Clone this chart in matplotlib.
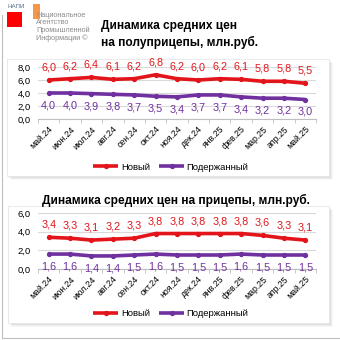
import matplotlib
matplotlib.use("Agg")
import matplotlib.pyplot as plt
from matplotlib.patches import Rectangle

plt.rcParams['font.family'] = ['Liberation Sans', 'DejaVu Sans']

# данные
months = ['май.24', 'июн.24', 'июл.24', 'авг.24', 'сен.24', 'окт.24', 'ноя.24',
          'дек.24', 'янв.25', 'фев.25', 'мар.25', 'апр.25', 'май.25']
semi_new = [6.0, 6.2, 6.4, 6.1, 6.2, 6.8, 6.2, 6.0, 6.2, 6.1, 5.8, 5.8, 5.5]
semi_used = [4.0, 4.0, 3.9, 3.8, 3.7, 3.5, 3.4, 3.7, 3.7, 3.4, 3.2, 3.2, 3.0]
trail_new = [3.4, 3.3, 3.1, 3.2, 3.3, 3.8, 3.8, 3.8, 3.8, 3.8, 3.6, 3.3, 3.1]
trail_used = [1.6, 1.6, 1.4, 1.4, 1.5, 1.6, 1.5, 1.5, 1.5, 1.6, 1.5, 1.5, 1.5]
series_names = ['Новый', 'Подержанный']

RED = '#E3151A'
PURPLE = '#7030A0'
W = H = 340


def fx(x):
    return x / W


def fy(y):
    return 1 - y / H


fig = plt.figure(figsize=(3.4, 3.4), dpi=100)
fig.patch.set_facecolor('white')


def panel(x0, y0, x1, y1):
    # белая панель с тенью
    for i, a in enumerate([0.05, 0.05, 0.04, 0.03]):
        d = i + 1
        fig.add_artist(Rectangle((fx(x0 + d), fy(y1 + d)), fx(x1 - x0), (y1 - y0) / H,
                                 transform=fig.transFigure, facecolor='black',
                                 edgecolor='none', alpha=a, zorder=-3))
    fig.add_artist(Rectangle((fx(x0), fy(y1)), fx(x1 - x0), (y1 - y0) / H,
                             transform=fig.transFigure, facecolor='white',
                             edgecolor='#E6E6E6', lw=0.6, zorder=-2))


# внешняя рамка
fig.add_artist(plt.Line2D([fx(2), fx(2)], [fy(15), fy(337.5)], transform=fig.transFigure,
                          color='#BFBFBF', lw=0.8, zorder=-4))
fig.add_artist(plt.Line2D([fx(2), fx(339)], [fy(337.5), fy(337.5)], transform=fig.transFigure,
                          color='#BFBFBF', lw=0.8, zorder=-4))

panel(7, 59, 329, 176)
panel(8, 206, 329, 323)

# логотип
fig.add_artist(Rectangle((fx(7), fy(27)), fx(15), 15 / H, transform=fig.transFigure,
                         facecolor='#FF0000', edgecolor='none'))
fig.add_artist(Rectangle((fx(33), fy(19)), fx(7), 15 / H, transform=fig.transFigure,
                         facecolor='#F79646', edgecolor='none'))
fig.text(fx(7), fy(6.5), 'НАПИ', fontsize=4.5, color='#5B6B8C', va='center', ha='left')
logo_lines = ['Национальное', 'Агентство', 'Промышленной', 'Информации ©']
for i, s in enumerate(logo_lines):
    fig.text(fx(36), fy(15.5 + i * 7.5), s, fontsize=5.2, color='#8C8C8C',
             va='center', ha='left')

# заголовки
fig.text(fx(101), fy(26), 'Динамика средних цен', fontsize=8.6, fontweight='bold',
         va='center', ha='left')
fig.text(fx(101), fy(42), 'на полуприцепы, млн.руб.', fontsize=8.6, fontweight='bold',
         va='center', ha='left')
fig.text(fx(176), fy(200), 'Динамика средних цен на прицепы, млн.руб.', fontsize=8.6,
         fontweight='bold', va='center', ha='center')


def draw(ax, new, used, ymax, step, legend_y):
    x = list(range(len(months)))
    ax.set_facecolor('none')
    l1, = ax.plot(x, new, color=RED, lw=2.6, marker='o', ms=2.8, solid_capstyle='butt',
                  zorder=3)
    l2, = ax.plot(x, used, color=PURPLE, lw=2.6, marker='o', ms=2.8, solid_capstyle='butt',
                  zorder=3)
    for i in x:
        ax.annotate(f'{new[i]:.1f}'.replace('.', ','), (i, new[i]), xytext=(0, 9),
                    textcoords='offset points', ha='center', va='center', color=RED,
                    fontsize=7.8, annotation_clip=False)
        ax.annotate(f'{used[i]:.1f}'.replace('.', ','), (i, used[i]), xytext=(0, -9),
                    textcoords='offset points', ha='center', va='center', color=PURPLE,
                    fontsize=7.8, annotation_clip=False)
    ax.set_xlim(-0.5, len(months) - 0.5)
    ax.set_ylim(0, ymax)
    yt = [step * k for k in range(int(round(ymax / step)) + 1)]
    ax.set_yticks(yt)
    ax.set_yticklabels([f'{v:.1f}'.replace('.', ',') for v in yt], fontsize=6.8)
    ax.grid(axis='y', color='#D9D9D9', lw=0.8, zorder=0)
    ax.tick_params(axis='y', length=0, pad=5)
    for s in ['top', 'right', 'left']:
        ax.spines[s].set_visible(False)
    ax.spines['bottom'].set_color('#BFBFBF')
    ax.set_xticks(x)
    ax.set_xticklabels(months, rotation=45, ha='right', rotation_mode='anchor', fontsize=6.3)
    ax.tick_params(axis='x', which='major', length=0, pad=4)
    ax.set_xticks([i - 0.5 for i in range(len(months) + 1)], minor=True)
    ax.tick_params(axis='x', which='minor', length=3, color='#BFBFBF')
    ax.legend([l1, l2], series_names, loc='center', ncol=2, frameon=False, fontsize=6.8,
              bbox_to_anchor=(fx(171), fy(legend_y)), bbox_transform=fig.transFigure,
              handlelength=2.6, handletextpad=0.3, columnspacing=1.0)


ax1 = fig.add_axes([fx(38), fy(119), fx(316 - 38), 52 / H])
draw(ax1, semi_new, semi_used, 8, 2, 167)

ax2 = fig.add_axes([fx(38), fy(269), fx(316 - 38), 56 / H])
draw(ax2, trail_new, trail_used, 6, 2, 314)

fig.savefig('out.png', dpi=100, facecolor='white')
